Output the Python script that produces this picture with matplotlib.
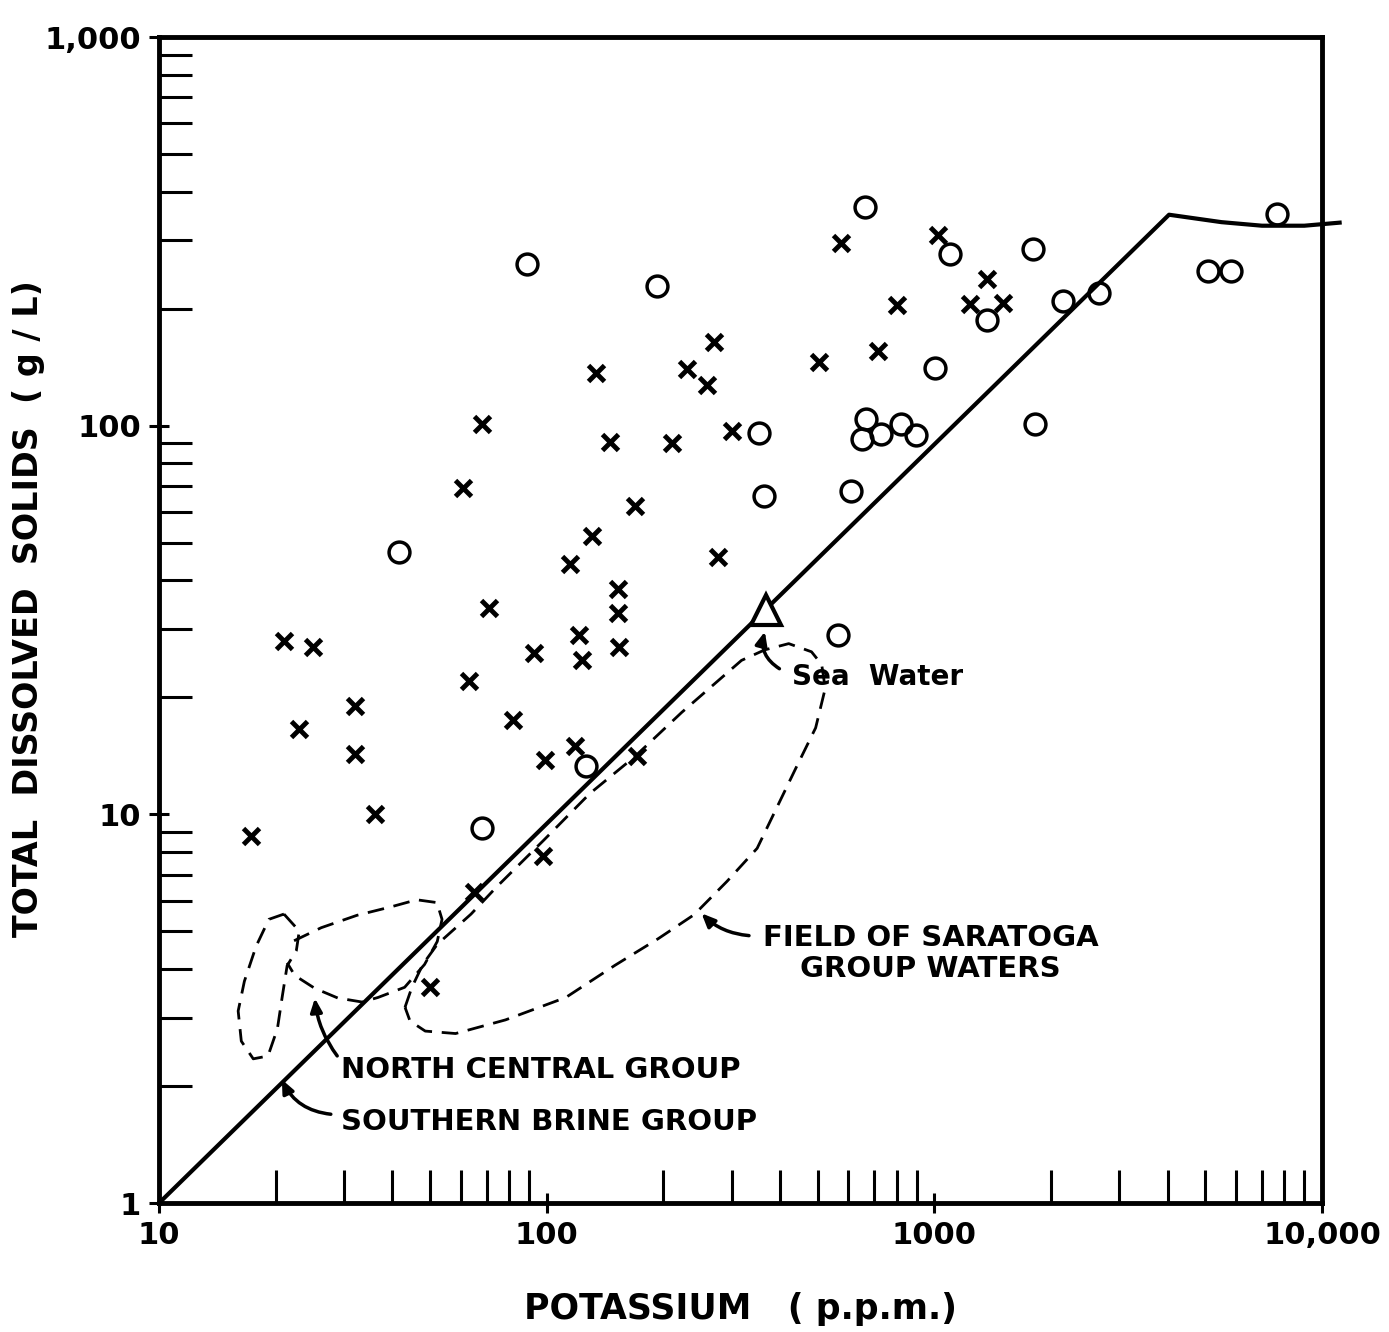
import numpy as np
import matplotlib
matplotlib.use('Agg')
import matplotlib.pyplot as plt
from matplotlib.ticker import LogLocator, NullFormatter

# Step 1: data (K in ppm, TDS in g/L)
# brines marked with x
x_k = [134, 68, 146, 210, 61, 169, 131, 115, 153, 153, 154, 121, 123, 93, 63, 71,
       21, 25, 32, 23, 32, 82, 99, 118, 171, 36, 17.3, 98, 65, 50,
       300, 277, 505, 716, 573, 1020, 1370, 1233, 1500, 800, 270, 230, 259]
x_tds = [137, 101, 91, 90, 69, 62, 52, 44, 38, 33, 27, 29, 25, 26, 22, 34,
         28, 27, 19, 16.6, 14.3, 17.5, 13.8, 15, 14.1, 10, 8.8, 7.8, 6.3, 3.6,
         97, 46, 146, 156, 295, 309, 238, 206, 207, 204, 164, 140, 127]

# brines marked with o
o_k = [89, 192, 41.5, 126, 68, 664, 1100, 1800, 1367, 2145, 2655, 1006, 666, 821,
       651, 729, 897, 1820, 352, 363, 608, 565, 7660, 5070, 5820]
o_tds = [260, 229, 47.4, 13.3, 9.2, 365, 277, 285, 187, 209, 220, 141, 104, 101,
         92.4, 95.3, 94.4, 101, 95.6, 66, 68, 29, 351, 250, 250]

# sea water and its evaporation path
sea_k = [368]
sea_tds = [33.5]
line_k = [10, 4030, 5500, 7000, 9000, 11100]
line_tds = [1, 349, 334, 327, 327, 333]

# dashed outlines of the water groups
southern_k = [21.0, 23.0, 22.6, 21.4, 20.8, 20.2, 19.1, 17.5, 16.3, 16.0, 16.6, 17.8, 19.2, 21.0]
southern_tds = [5.54, 5.01, 4.46, 4.08, 3.41, 2.81, 2.39, 2.35, 2.61, 3.12, 3.72, 4.58, 5.37, 5.54]

north_k = [22.3, 26.2, 32.4, 39.6, 46.2, 52.1, 53.7, 52.2, 48.4, 43.0, 36.7, 33.4, 28.9, 25.2, 22.4, 21.4]
north_tds = [4.73, 5.11, 5.50, 5.78, 6.03, 5.93, 5.37, 4.71, 4.11, 3.59, 3.38, 3.29, 3.37, 3.57, 3.85, 4.15]

saratoga_k = [43.1, 44.9, 47.9, 52.2, 63.8, 74.3, 98, 129, 169, 223, 318, 365, 421, 482, 512,
              523, 494, 440, 392, 349, 292, 240, 194, 150, 112, 78.3, 58.2, 48.6, 44.4, 43.1]
saratoga_tds = [3.19, 3.59, 4.11, 4.63, 5.54, 6.51, 8.56, 11.3, 14.1, 18.3, 24.9, 26.5, 27.5, 26.2, 24.3,
                21.1, 16.7, 13.2, 10.4, 8.18, 6.73, 5.52, 4.79, 4.09, 3.38, 2.96, 2.73, 2.77, 2.94, 3.19]

x_ticks = [10, 100, 1000, 10000]
x_tick_labels = ['10', '100', '1000', '10,000']
y_ticks = [1, 10, 100, 1000]
y_tick_labels = ['1', '10', '100', '1,000']

# Step 2: figure
plt.rcParams['font.family'] = ['DejaVu Sans']
fig = plt.figure(figsize=(13.89, 13.32), dpi=100)
ax = fig.add_axes([0.1145, 0.0968, 0.8373, 0.8754])
ax.set_xscale('log')
ax.set_yscale('log')
ax.set_xlim(10, 10000)
ax.set_ylim(1, 1000)

# Step 3: lines and outlines
ax.plot(line_k, line_tds, color='black', lw=3, clip_on=False, zorder=2)
dash = dict(color='black', lw=2, linestyle=(0, (6, 3.5)))
ax.plot(southern_k, southern_tds, **dash)
ax.plot(north_k, north_tds, **dash)
ax.plot(saratoga_k, saratoga_tds, **dash)

# Step 4: points
ax.plot(x_k, x_tds, 'x', color='black', ms=12, mew=3.5, linestyle='none', zorder=3)
ax.plot(o_k, o_tds, 'o', color='black', mfc='none', ms=15, mew=2.5, linestyle='none', zorder=3)
ax.plot(sea_k, sea_tds, '^', color='black', mfc='white', ms=22, mew=3, linestyle='none', zorder=4)

# Step 5: labels with arrows
txt = dict(fontsize=21, fontweight='bold', color='black')
ax.text(429, 22.6, 'Sea  Water', ha='left', va='center', fontsize=20, fontweight='bold')
ax.text(977, 4.38, 'FIELD OF SARATOGA\nGROUP WATERS', ha='center', va='center',
        multialignment='center', linespacing=1.15, **txt)
ax.text(29.4, 2.20, 'NORTH CENTRAL GROUP', ha='left', va='center', **txt)
ax.text(29.5, 1.62, 'SOUTHERN BRINE GROUP', ha='left', va='center', **txt)

arrow = dict(arrowstyle='-|>,head_length=0.8,head_width=0.35', color='black', lw=2.5)
ax.annotate('', xy=(367, 30.0), xytext=(404, 23.5),
            arrowprops=dict(connectionstyle='arc3,rad=-0.4', **arrow))
ax.annotate('', xy=(248, 5.63), xytext=(338, 4.87),
            arrowprops=dict(connectionstyle='arc3,rad=-0.2', **arrow))
ax.annotate('', xy=(25.2, 3.42), xytext=(29.1, 2.36),
            arrowprops=dict(connectionstyle='arc3,rad=-0.15', **arrow))
ax.annotate('', xy=(20.6, 2.11), xytext=(28.2, 1.69),
            arrowprops=dict(connectionstyle='arc3,rad=-0.3', **arrow))

# Step 6: axes styling
ax.set_xticks(x_ticks)
ax.set_xticklabels(x_tick_labels, fontweight='bold')
ax.set_yticks(y_ticks)
ax.set_yticklabels(y_tick_labels, fontweight='bold')
ax.xaxis.set_minor_locator(LogLocator(base=10, subs=np.arange(2, 10)))
ax.yaxis.set_minor_locator(LogLocator(base=10, subs=np.arange(2, 10)))
ax.xaxis.set_minor_formatter(NullFormatter())
ax.yaxis.set_minor_formatter(NullFormatter())
ax.tick_params(which='minor', direction='in', length=24, width=2.2, top=False, right=False)
ax.tick_params(which='major', direction='inout', length=14, width=2.2, top=False, right=False,
               labelsize=22, pad=6)
for s in ax.spines.values():
    s.set_linewidth(3.5)

ax.set_xlabel('POTASSIUM   ( p.p.m.)', fontsize=25, fontweight='bold', labelpad=30)
ax.set_ylabel('TOTAL  DISSOLVED  SOLIDS  ( g / L)', fontsize=24, fontweight='bold')
ax.yaxis.set_label_coords(-0.098, 0.51)

fig.savefig('out.png', dpi=100)
